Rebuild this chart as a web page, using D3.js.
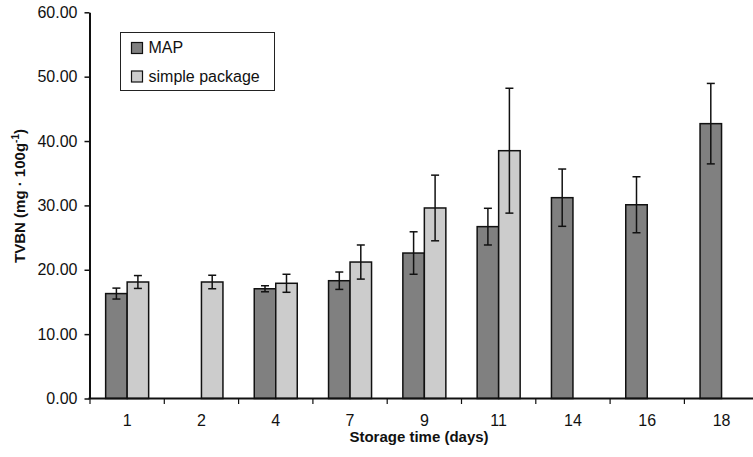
<!DOCTYPE html>
<html>
<head>
<meta charset="utf-8">
<script src="https://cdn.jsdelivr.net/npm/d3@7"></script>
<style>
  html, body { margin: 0; padding: 0; background: #fff; }
  svg { display: block; font-family: "Liberation Sans", Arial, Helvetica, sans-serif; }
</style>
</head>
<body>
<svg id="chart" width="753" height="457"></svg>
<script>
// ---- data ----
const categories = ["1", "2", "4", "7", "9", "11", "14", "16", "18"];
const seriesNames = ["MAP", "simple package"];
const mapValues    = [16.3, null, 17.05, 18.3, 22.6, 26.7, 31.2, 30.1, 42.7];
const mapErrors    = [0.85, null, 0.47, 1.35, 3.3, 2.85, 4.45, 4.35, 6.25];
const simpleValues = [18.1, 18.1, 17.9, 21.2, 29.6, 38.5, null, null, null];
const simpleErrors = [1.0, 1.05, 1.4, 2.65, 5.1, 9.7, null, null, null];
const yTicks = [0, 10, 20, 30, 40, 50, 60];
const seriesColors = ["#808080", "#cccccc"];

// ---- layout ----
const svg = d3.select("#chart");
const mLeft = 90, mRight = 758.7, mTop = 12.3, mBottom = 398.5;

const x = d3.scaleBand().domain(categories).range([mLeft, mRight]).padding(0);
const x1 = d3.scaleBand().domain(seriesNames).range([0, x.bandwidth()])
  .paddingInner(0).paddingOuter(0.728);
const y = d3.scaleLinear().domain([0, 60]).range([mBottom, mTop]);

const rows = [];
categories.forEach((c, i) => {
  rows.push({cat: c, s: seriesNames[0], v: mapValues[i], e: mapErrors[i], color: seriesColors[0]});
  rows.push({cat: c, s: seriesNames[1], v: simpleValues[i], e: simpleErrors[i], color: seriesColors[1]});
});
const data = rows.filter(d => d.v != null);

// bars
svg.append("g").selectAll("rect").data(data).join("rect")
  .attr("x", d => x(d.cat) + x1(d.s))
  .attr("y", d => y(d.v))
  .attr("width", x1.bandwidth())
  .attr("height", d => y(0) - y(d.v))
  .attr("fill", d => d.color)
  .attr("stroke", "#111")
  .attr("stroke-width", 1.5);

// error bars
const eg = svg.append("g").attr("stroke", "#111").attr("stroke-width", 1.5).attr("fill", "none");
data.forEach(d => {
  const cx = x(d.cat) + x1(d.s) + x1.bandwidth() / 2;
  const y1 = y(d.v + d.e), y2 = y(d.v - d.e);
  eg.append("line").attr("x1", cx).attr("x2", cx).attr("y1", y1).attr("y2", y2);
  eg.append("line").attr("x1", cx - 4).attr("x2", cx + 4).attr("y1", y1).attr("y2", y1);
  eg.append("line").attr("x1", cx - 4).attr("x2", cx + 4).attr("y1", y2).attr("y2", y2);
});

// y axis
const yAxis = svg.append("g").attr("transform", `translate(${mLeft - 0.5},0)`)
  .call(d3.axisLeft(y).tickValues(yTicks).tickSize(5).tickSizeOuter(0).tickPadding(7)
    .tickFormat(d3.format(".2f")));
yAxis.select(".domain").attr("stroke", "#111").attr("stroke-width", 2);
yAxis.selectAll(".tick line").attr("stroke", "#111").attr("stroke-width", 1.5);
yAxis.selectAll(".tick text").attr("font-size", 16).attr("fill", "#111")
  .attr("font-family", "'Liberation Sans', Arial, sans-serif");

// x axis: line, boundary ticks, centered labels
const xg = svg.append("g");
xg.append("line").attr("x1", mLeft - 1.5).attr("x2", mRight).attr("y1", mBottom).attr("y2", mBottom)
  .attr("stroke", "#111").attr("stroke-width", 2);
xg.selectAll("line.tk").data(categories).join("line").attr("class", "tk")
  .attr("x1", d => x(d)).attr("x2", d => x(d))
  .attr("y1", mBottom).attr("y2", mBottom + 5.5)
  .attr("stroke", "#111").attr("stroke-width", 1.2);
xg.selectAll("text").data(categories).join("text")
  .attr("x", d => x(d) + x.bandwidth() / 2)
  .attr("y", 425.5)
  .attr("text-anchor", "middle")
  .attr("font-size", 16).attr("fill", "#111")
  .text(d => d);

// axis titles
svg.append("text").attr("x", 419).attr("y", 441.7).attr("text-anchor", "middle")
  .attr("font-size", 15).attr("font-weight", "bold").attr("fill", "#111")
  .text("Storage time (days)");

const yt = svg.append("text").attr("transform", "translate(25,196) rotate(-90)")
  .attr("text-anchor", "middle").attr("font-size", 15).attr("font-weight", "bold").attr("fill", "#111");
yt.append("tspan").text("TVBN (mg \u00b7 100g");
yt.append("tspan").attr("font-size", 10).attr("dy", -6).text("-1");
yt.append("tspan").attr("dy", 6).text(")");

// legend
const lg = svg.append("g");
lg.append("rect").attr("x", 120.5).attr("y", 32.5).attr("width", 154).attr("height", 58)
  .attr("fill", "#fff").attr("stroke", "#222").attr("stroke-width", 1);
seriesNames.forEach((s, i) => {
  const yy = 42.5 + i * 28.5;
  lg.append("rect").attr("x", 131.5).attr("y", yy).attr("width", 11).attr("height", 11)
    .attr("fill", seriesColors[i]).attr("stroke", "#111").attr("stroke-width", 1.2);
  lg.append("text").attr("x", 148.5).attr("y", yy + 10.5)
    .attr("font-size", 16).attr("fill", "#111").text(s);
});
</script>
</body>
</html>
